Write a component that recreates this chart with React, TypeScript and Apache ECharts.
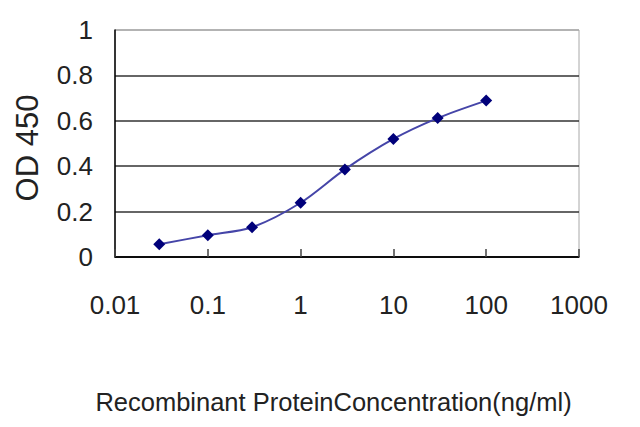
import React, { useEffect, useRef } from "react";
import * as echarts from "echarts";

const concentrations = [0.03, 0.1, 0.3, 1, 3, 10, 30, 100];
const odValues = [0.056, 0.096, 0.131, 0.239, 0.386, 0.52, 0.612, 0.689];
const xTicks = [0.01, 0.1, 1, 10, 100, 1000];
const xAxisTitle = "Recombinant ProteinConcentration(ng/ml)";
const yAxisTitle = "OD 450";

export default function App() {
  const ref = useRef<HTMLDivElement>(null);
  useEffect(() => {
    if (!ref.current) return;
    const chart = echarts.init(ref.current, undefined, { renderer: "svg" });
    const font = "Liberation Sans, Arial, sans-serif";
    chart.setOption({
      animation: false,
      backgroundColor: "#ffffff",
      grid: {
        left: 115,
        right: 61,
        top: 30,
        bottom: 170,
        show: true,
        borderColor: "#a8a8a8",
        borderWidth: 1,
        backgroundColor: "transparent",
      },
      xAxis: {
        type: "log",
        logBase: 10,
        min: 0.01,
        max: 1000,
        name: xAxisTitle,
        nameLocation: "middle",
        nameGap: 132,
        nameTextStyle: {
          fontFamily: font,
          fontSize: 25.5,
          color: "#222",
          padding: [0, 27, 0, 0],
        },
        axisLine: { show: true, lineStyle: { color: "#000", width: 1.5 } },
        axisTick: { show: true, inside: true, length: 8, lineStyle: { color: "#444", width: 1.5 } },
        splitLine: { show: false },
        minorTick: { show: false },
        axisLabel: {
          fontFamily: font,
          fontSize: 26,
          color: "#222",
          margin: 35,
          formatter: (v: number) => {
            const t = xTicks.find((x) => Math.abs(x - v) / x < 1e-6);
            return t !== undefined ? String(t) : String(v);
          },
        },
      },
      yAxis: {
        type: "value",
        min: 0,
        max: 1,
        interval: 0.2,
        name: yAxisTitle,
        nameLocation: "middle",
        nameGap: 72,
        nameTextStyle: { fontFamily: font, fontSize: 31, color: "#222", padding: [0, 9, 0, 0] },
        axisLine: { show: true, lineStyle: { color: "#000", width: 1.5 } },
        axisTick: { show: false },
        splitLine: {
          show: true,
          lineStyle: {
            color: ["#000", "#333", "#333", "#333", "#333", "#a8a8a8"],
            width: 1.5,
          },
        },
        axisLabel: {
          fontFamily: font,
          fontSize: 26,
          color: "#222",
          margin: 22,
          formatter: (v: number) => String(Math.round(v * 10) / 10),
        },
      },
      series: [
        {
          type: "line",
          data: concentrations.map((c, i) => [c, odValues[i]]),
          smooth: 0.3,
          symbol: "diamond",
          symbolSize: 12,
          lineStyle: { color: "#4545a8", width: 2 },
          itemStyle: { color: "#00007a" },
        },
      ],
    });
    return () => chart.dispose();
  }, []);
  return (
    <div
      ref={ref}
      style={{ position: "absolute", left: 0, top: 0, width: 640, height: 427 }}
    />
  );
}
